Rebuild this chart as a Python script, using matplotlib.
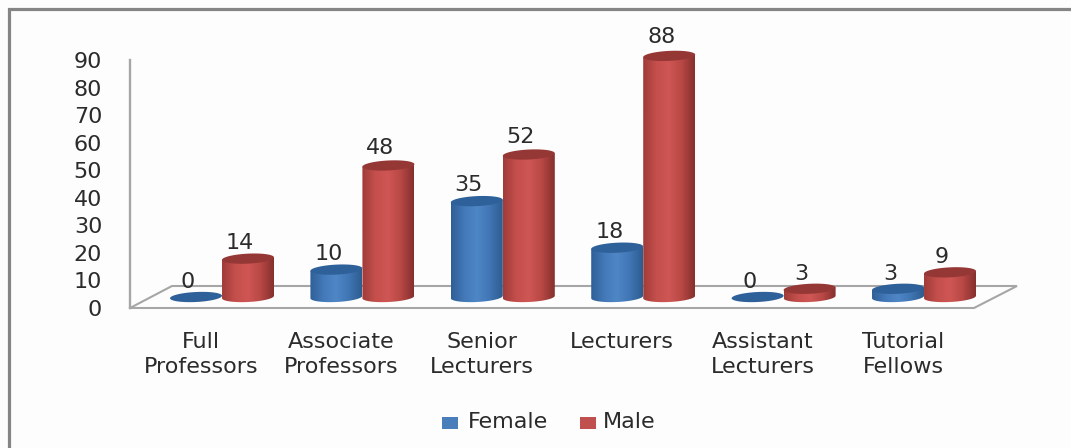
import numpy as np
import matplotlib
matplotlib.use('Agg')
import matplotlib.pyplot as plt
from matplotlib.colors import LinearSegmentedColormap
from matplotlib.patches import PathPatch, Polygon, Rectangle
from matplotlib.path import Path

categories = ['Full\nProfessors', 'Associate\nProfessors', 'Senior\nLecturers',
              'Lecturers', 'Assistant\nLecturers', 'Tutorial\nFellows']
female = [0, 10, 35, 18, 0, 3]
male = [14, 48, 52, 88, 3, 9]
y_ticks = [0, 10, 20, 30, 40, 50, 60, 70, 80, 90]

W, H = 1071, 448
# pixel layout of the bars
x0_px, step_px = 222, 140.4
y0_px, unit_px = 297, 2.74
half_w = 26 / step_px
cap_h = 10 / unit_px
tilt = (2.5 / unit_px) / (2 * half_w)  # caps rise a bit to the right

blue_body = LinearSegmentedColormap.from_list('b', ['#2f5f97', '#4379b8', '#4f86c6', '#4076b4', '#2f5c90'])
red_body = LinearSegmentedColormap.from_list('r', ['#a03c39', '#c44f4c', '#cf5654', '#b84845', '#86302e'])
blue_cap = '#2e6099'
red_cap = '#953735'
line_grey = '#a6a6a6'
text_col = '#2b2b2b'
bg = '#fdfdfd'
font_sz = 16

fig = plt.figure(figsize=(W / 100, H / 100), dpi=100)
fig.patch.set_facecolor(bg)

# outer frame, only top and left show, the rest is cut off
fig.add_artist(plt.Line2D([9 / W, 9 / W, 1.01], [-0.01, 1 - 9.5 / H, 1 - 9.5 / H], transform=fig.transFigure,
                          color='#858585', linewidth=2.3, solid_joinstyle='miter'))

# axes over the whole figure so values go through the data scale
ax = fig.add_axes([0, 0, 1, 1])
ax.axis('off')


def px(x, y):
    return (x - x0_px) / step_px, (y0_px - y) / unit_px


# floor
floor = [px(130, 308), px(974, 308), px(1017, 286), px(172, 286), px(130, 308)]
ax.plot(*zip(*floor), color=line_grey, linewidth=1.5, solid_joinstyle='miter', zorder=1)


def cylinder(xc, val, cmap, cap_col, zorder):
    t = np.linspace(0, 2 * np.pi, 60)
    ex = half_w * np.cos(t)
    ey = cap_h / 2 * np.sin(t) + tilt * ex
    if val > 0:
        low = t > np.pi
        order = np.argsort(ex[low])
        verts = list(zip(xc + ex[low][order], ey[low][order]))
        verts += [(xc + half_w, val + tilt * half_w), (xc - half_w, val - tilt * half_w)]
        clip = PathPatch(Path(verts + [verts[0]]), transform=ax.transData, facecolor='none', edgecolor='none')
        ax.add_patch(clip)
        im = ax.imshow(np.linspace(0, 1, 64)[None, :], cmap=cmap, aspect='auto', zorder=zorder,
                       extent=[xc - half_w, xc + half_w, -2 * cap_h, val + 2 * cap_h])
        im.set_clip_path(clip)
    ax.add_patch(Polygon(np.column_stack([xc + ex, val + ey]), closed=True, facecolor=cap_col,
                         edgecolor='none', zorder=zorder + 0.1))


label_dx = 8 / step_px
cat_dx = 21 / step_px
for i, (f, m) in enumerate(zip(female, male)):
    cylinder(i - half_w, f, blue_body, blue_cap, 2)
    cylinder(i + half_w, m, red_body, red_cap, 3)
    # labels sit on a slightly steeper scale than the bars
    ax.text(i - half_w - label_dx, f * 1.015 + 5.5, str(f), ha='center', va='center',
            fontsize=font_sz, color=text_col, zorder=5)
    ax.text(i + half_w - label_dx, m * 1.015 + 5.5, str(m), ha='center', va='center',
            fontsize=font_sz, color=text_col, zorder=5)
    ax.text(i - cat_dx, (y0_px - 332) / unit_px, categories[i], ha='center', va='top',
            fontsize=font_sz, color=text_col, linespacing=1.32)
ax.set_xlim((0 - x0_px) / step_px, (W - x0_px) / step_px)
ax.set_ylim((y0_px - H) / unit_px, y0_px / unit_px)

# value axis has its own scale, 0 sits on the front floor edge
ax_y = fig.add_axes([130 / W, (H - 308) / H, 10 / W, 248 / H])
ax_y.patch.set_alpha(0)
ax_y.set_ylim(0, 90)
ax_y.set_xticks([])
ax_y.set_yticks(y_ticks)
ax_y.tick_params(axis='y', length=0, labelsize=font_sz, labelcolor=text_col, pad=20)
for s in ['top', 'right', 'bottom']:
    ax_y.spines[s].set_visible(False)
ax_y.spines['left'].set_color(line_grey)
ax_y.spines['left'].set_linewidth(1.7)

# legend
for lx, tx, col, lab in [(442, 468, '#4a7ebb', 'Female'), (580, 603, '#c0504d', 'Male')]:
    ax.add_patch(Rectangle(px(lx, 429), 16 / step_px, 12 / unit_px, facecolor=col, edgecolor='none'))
    ax.text(*px(tx, 422), lab, ha='left', va='center', fontsize=font_sz, color=text_col)

fig.savefig('out.png', dpi=100, facecolor=bg)
